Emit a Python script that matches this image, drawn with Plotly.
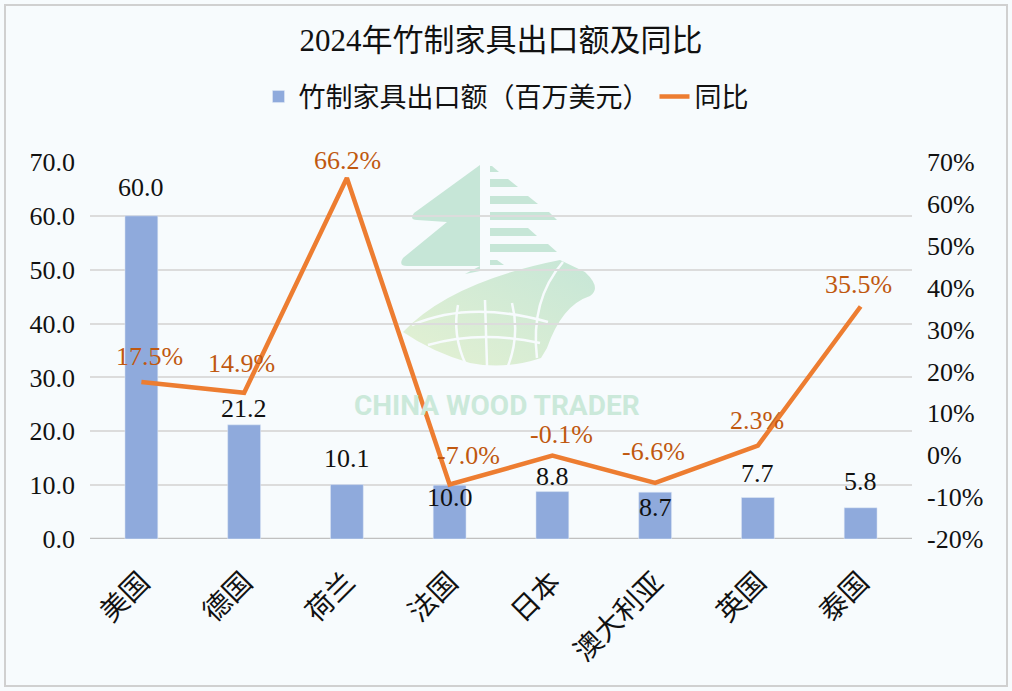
import base64

import plotly.graph_objects as go

# data
countries = ["美国", "德国", "荷兰", "法国", "日本", "澳大利亚", "英国", "泰国"]
export_value = [60.0, 21.2, 10.1, 10.0, 8.8, 8.7, 7.7, 5.8]  # 百万美元
yoy_pct = [17.5, 14.9, 66.2, -7.0, -0.1, -6.6, 2.3, 35.5]     # %
left_ticks = [0, 10, 20, 30, 40, 50, 60, 70]
right_ticks = [-20, -10, 0, 10, 20, 30, 40, 50, 60, 70]

# label nudges (pixels), to mimic the hand-placed labels of the original
bar_label_shift = [28, 16, 26, -12, 15, -15, 24, 26]
line_label_dx = [8, -3, 1, 19, 9, -2, -1, -2]
line_label_dy = [25, 29, 17, 29, 21, 31, 25, 22]

SERIF = "Times New Roman, Liberation Serif, DejaVu Serif, serif"
CJK = "Noto Sans CJK SC"
BAR_COLOR = "#8faadc"
LINE_COLOR = "#ed7d31"
LABEL_ORANGE = "#c0580f"
BG = "#f7fbfd"

W, H = 1012, 691
L, R, T, B = 90, 100, 162, 152
pw, ph = W - L - R, H - T - B


def px_to_paper(x, y):
    return (x - L) / pw, (H - B - y) / ph


# faint watermark logo (tree + sail/globe), drawn as a small inline svg
LOGO_SVG = """<svg xmlns="http://www.w3.org/2000/svg" viewBox="395 160 205 210">
<defs><linearGradient id="g" x1="0" y1="1" x2="1" y2="0">
<stop offset="0" stop-color="#e4f1d2"/><stop offset="1" stop-color="#c6e6d7"/>
</linearGradient></defs>
<g fill="#c6e6d7">
<path d="M480,165 L414,213 Q409,220 417,220 L447,222 L403,258 Q398,266 407,266 L480,266 Z"/>
<path d="M465,274 L480,266 L480,271 Z"/>
<path d="M490,166 L492,166 L499,172 L490,172 Z"/>
<path d="M490,179 L508,179 L518,187 L490,187 Z"/>
<path d="M490,196 L528,196 L538,204 L490,204 Z"/>
<path d="M490,212 L549,212 L557,220 L490,220 Z"/>
<path d="M490,228 L528,228 L537,236 L490,236 Z"/>
<path d="M490,244 L548,244 L557,252 L490,252 Z"/>
<path d="M490,260 L497,260 L504,265 L490,265 Z"/>
</g>
<path fill="url(#g)" d="M403,332 Q450,282 560,260 L585,272 Q602,288 590,296 Q562,305 547,348 L541,358 Q505,370 470,363 Q432,352 403,332 Z"/>
<g fill="none" stroke="#f7fbfd" stroke-width="2.5">
<path d="M563,262 Q530,300 537,358"/>
<path d="M412,325 Q470,300 548,322"/>
<path d="M428,345 Q480,330 540,343"/>
<path d="M458,305 Q452,335 466,365"/>
<path d="M485,300 L487,366"/>
<path d="M512,303 Q520,335 508,366"/>
</g>
</svg>"""
logo_src = "data:image/svg+xml;base64," + base64.b64encode(LOGO_SVG.encode()).decode()

fig = go.Figure()
fig.add_bar(
    x=countries, y=export_value, name="竹制家具出口额（百万美元）",
    marker_color=BAR_COLOR, yaxis="y",
)
fig.add_scatter(
    x=countries, y=yoy_pct, name="同比", mode="lines",
    line=dict(color=LINE_COLOR, width=4.5), yaxis="y2",
)

annotations = []
for c, v, s in zip(countries, export_value, bar_label_shift):
    annotations.append(dict(
        x=c, y=v, xref="x", yref="y", text=f"{v:.1f}", showarrow=False,
        yshift=s, font=dict(family=SERIF, size=26, color="#111111"),
    ))
for c, v, dx, dy in zip(countries, yoy_pct, line_label_dx, line_label_dy):
    annotations.append(dict(
        x=c, y=v, xref="x", yref="y2", text=f"{v:.1f}%", showarrow=False,
        xshift=dx, yshift=dy, font=dict(family=SERIF, size=26, color=LABEL_ORANGE),
    ))
wx, wy = px_to_paper(497, 405)
annotations.append(dict(
    x=wx, y=wy, xref="paper", yref="paper", text="<b>CHINA WOOD TRADER</b>",
    showarrow=False, font=dict(family="Roboto", size=28, color="#cbe9da"),
))

x0, y0 = px_to_paper(5, 686)
x1, y1 = px_to_paper(1007, 5)
shapes = [dict(
    type="rect", xref="paper", yref="paper", x0=x0, y0=y0, x1=x1, y1=y1,
    line=dict(color="#d0d0d0", width=2), fillcolor="rgba(0,0,0,0)", layer="below",
)]

lx0, ly0 = px_to_paper(395, 160)
lx1, ly1 = px_to_paper(600, 370)
images = [dict(
    source=logo_src, xref="paper", yref="paper", x=lx0, y=ly0,
    sizex=lx1 - lx0, sizey=ly0 - ly1, xanchor="left", yanchor="top",
    sizing="stretch", layer="below",
)]

fig.update_layout(
    width=W, height=H,
    margin=dict(l=L, r=R, t=T, b=B),
    paper_bgcolor=BG, plot_bgcolor="rgba(0,0,0,0)",
    title=dict(
        text="2024年竹制家具出口额及同比", x=0.5, xref="paper", y=1 - 40 / H,
        yanchor="middle",
        font=dict(family=SERIF + ", " + CJK, size=31, color="#111111"),
    ),
    legend=dict(
        orientation="h", x=0.5, xanchor="center", xref="container",
        y=1 - 97 / H, yref="container", yanchor="middle",
        font=dict(family=CJK, size=27, color="#111111"),
        bgcolor="rgba(0,0,0,0)",
    ),
    bargap=0.68,
    showlegend=True,
    annotations=annotations,
    shapes=shapes,
    images=images,
    xaxis=dict(
        tickangle=-45, showgrid=False, showline=False, ticks="",
        ticklabelstandoff=20,
        tickfont=dict(family=CJK, size=28, color="#111111"),
    ),
    yaxis=dict(
        range=[0, 70], tickvals=left_ticks,
        ticktext=[f"{v:.1f}" for v in left_ticks],
        gridcolor="#dcdcdc", gridwidth=1.5, zeroline=False,
        showline=False, ticklabelstandoff=14,
        tickfont=dict(family=SERIF, size=26, color="#111111"),
    ),
    yaxis2=dict(
        range=[-20, 70], tickvals=right_ticks,
        ticktext=[f"{v}%" for v in right_ticks],
        overlaying="y", side="right", showgrid=False, zeroline=False,
        showline=False, ticklabelstandoff=14,
        tickfont=dict(family=SERIF, size=26, color="#111111"),
    ),
)
# darker baseline at 0 of the left axis
fig.add_hline(y=0, line=dict(color="#c0c0c0", width=2.5), layer="below")

fig.write_html(
    "out.html",
    config={"displayModeBar": False},
    post_script="document.body.style.margin = '0';",
)
